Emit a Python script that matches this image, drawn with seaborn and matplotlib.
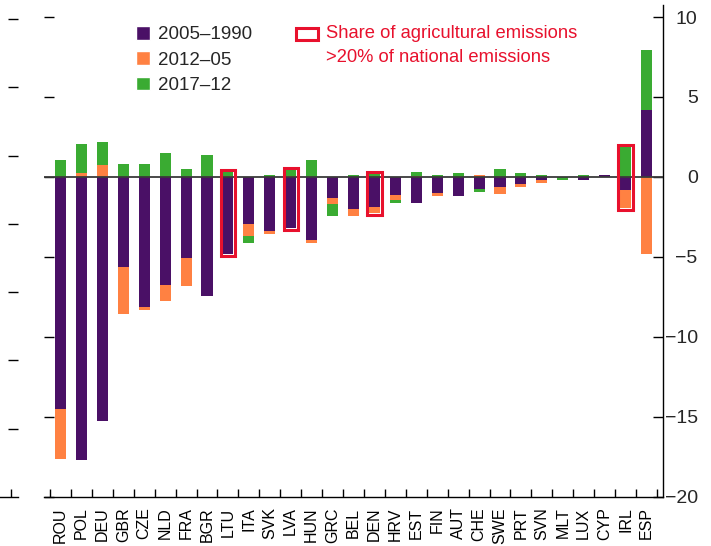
import numpy as np
import pandas as pd
import seaborn as sns
import matplotlib
matplotlib.use("Agg")
import matplotlib.pyplot as plt
from matplotlib.patches import Rectangle, Patch

countries = ["ROU", "POL", "DEU", "GBR", "CZE", "NLD", "FRA", "BGR", "LTU", "ITA",
             "SVK", "LVA", "HUN", "GRC", "BEL", "DEN", "HRV", "EST", "FIN", "AUT",
             "CHE", "SWE", "PRT", "SVN", "MLT", "LUX", "CYP", "IRL", "ESP"]
chg_2005_1990 = [-14.5, -17.7, -15.25, -5.6, -8.1, -6.73, -5.04, -7.42, -4.8, -2.94,
                 -3.38, -3.2, -3.94, -1.31, -2.0, -1.88, -1.13, -1.6, -1.0, -1.19,
                 -0.75, -0.62, -0.42, -0.17, -0.03, -0.17, 0.15, -0.8, 4.19]
chg_2012_05 = [-3.1, 0.27, 0.77, -2.94, -0.2, -1.0, -1.8, 0.0, 0.05, -0.75,
               -0.17, 0.05, -0.17, -0.38, -0.42, -0.37, -0.31, 0.06, -0.19, 0.0,
               0.12, -0.44, -0.2, -0.2, 0.0, 0.0, 0.0, -1.15, -4.8]
chg_2017_12 = [1.06, 1.8, 1.42, 0.81, 0.81, 1.5, 0.5, 1.37, 0.25, -0.42,
               0.12, 0.37, 1.06, -0.73, 0.12, 0.17, -0.19, 0.25, 0.12, 0.25,
               -0.19, 0.5, 0.25, 0.12, -0.15, 0.12, 0.0, 1.9, 3.75]
high_agri_share = ["LTU", "LVA", "DEN", "IRL"]
series_labels = ["2005\u20131990", "2012\u201305", "2017\u201312"]
y_ticks = [-20, -15, -10, -5, 0, 5, 10]

PURPLE = "#4a1066"
ORANGE = "#ff8142"
GREEN = "#3aab32"
RED = "#e8112d"

sns.set_theme(style="white")
plt.rcParams["font.family"] = ["Liberation Sans", "DejaVu Sans"]
plt.rcParams["axes.unicode_minus"] = True

fig = plt.figure(figsize=(7.11, 5.46), dpi=100)
W, H = 711, 546
ax = fig.add_axes([44 / W, 49 / H, 619 / W, 492 / H])

P = np.array(chg_2005_1990)
O = np.array(chg_2012_05)
G = np.array(chg_2017_12)
pos1 = np.clip(P, 0, None)
pos2 = pos1 + np.clip(O, 0, None)
pos3 = pos2 + np.clip(G, 0, None)
neg1 = np.clip(P, None, 0)
neg2 = neg1 + np.clip(O, None, 0)
neg3 = neg2 + np.clip(G, None, 0)

BW = 0.53
for vals, col in [(pos3, GREEN), (pos2, ORANGE), (pos1, PURPLE),
                  (neg3, GREEN), (neg2, ORANGE), (neg1, PURPLE)]:
    df = pd.DataFrame({"country": countries, "value": vals})
    sns.barplot(data=df, x="country", y="value", color=col, saturation=1,
                width=BW, linewidth=0, errorbar=None, ax=ax, zorder=2)

ax.axhline(0, color="#3a3a3a", lw=1.3, zorder=3)

for c in high_agri_share:
    i = countries.index(c)
    ax.add_patch(Rectangle((i - BW / 2 - 0.08, neg3[i] - 0.13), BW + 0.16,
                           pos3[i] - neg3[i] + 0.26, fill=False, ec=RED, lw=2.2,
                           zorder=4))

ax.set_xlim(-0.79, len(countries) - 1 + 0.79)
ax.set_ylim(-20, 10.75)
ax.set_xlabel("")
ax.set_ylabel("")
for s in ["top", "left"]:
    ax.spines[s].set_visible(False)
for s in ["bottom", "right"]:
    ax.spines[s].set_visible(True)
    ax.spines[s].set_color("black")
    ax.spines[s].set_linewidth(1.0)

ax.set_xticks(range(len(countries)))
ax.set_xticklabels(countries, rotation=90, fontsize=11.5)
ax.set_xticks(np.arange(-0.5, len(countries)), minor=True)
ax.tick_params(axis="x", which="major", length=0, pad=7.5, colors="black")
ax.tick_params(axis="x", which="minor", bottom=True, direction="in", length=6,
               width=1, color="black")

ax.set_yticks(y_ticks)
ax.set_yticklabels([f"{v}".replace("-", "\u2212") for v in y_ticks])
ax.tick_params(axis="y", which="major", left=True, right=True, labelleft=False,
               labelright=True, direction="in", length=7, width=1, color="black",
               labelsize=14, pad=25)
for t in ax.yaxis.get_majorticklabels():
    t.set_horizontalalignment("right")

# outer phantom axis ticks at the far left
ax0 = fig.add_axes([0, 49 / H, 18 / W, 478 / H])
ax0.set_xlim(0, 1)
ax0.set_ylim(0, 7)
ax0.patch.set_visible(False)
for s in ["top", "left", "right"]:
    ax0.spines[s].set_visible(False)
ax0.spines["bottom"].set_color("black")
ax0.spines["bottom"].set_linewidth(1.0)
ax0.set_yticks(range(1, 8))
ax0.set_xticks([11 / 18])
ax0.tick_params(axis="y", left=False, right=True, labelleft=False, labelright=False,
                direction="in", length=7, width=1, color="black")
ax0.tick_params(axis="x", bottom=True, labelbottom=False, direction="in", length=6,
                width=1, color="black")

handles = [Patch(facecolor=PURPLE), Patch(facecolor=ORANGE), Patch(facecolor=GREEN)]
ax.legend(handles, series_labels, loc="upper left",
          bbox_to_anchor=(136 / W, 1 - 26 / H), bbox_transform=fig.transFigure,
          frameon=False, fontsize=13.5, handlelength=0.75, handleheight=0.75,
          handletextpad=0.4, labelspacing=0.42, borderpad=0, borderaxespad=0)

fig.patches.append(Rectangle((296 / W, 1 - 40 / H), 22 / W, 12 / H,
                             transform=fig.transFigure, fill=False, ec=RED, lw=2.2))
fig.text(326 / W, 1 - 34 / H, "Share of agricultural emissions", color=RED,
         fontsize=13.2, va="center", ha="left")
fig.text(326 / W, 1 - 58 / H, ">20% of national emissions", color=RED,
         fontsize=13.2, va="center", ha="left")

fig.savefig("out.png", dpi=100)
